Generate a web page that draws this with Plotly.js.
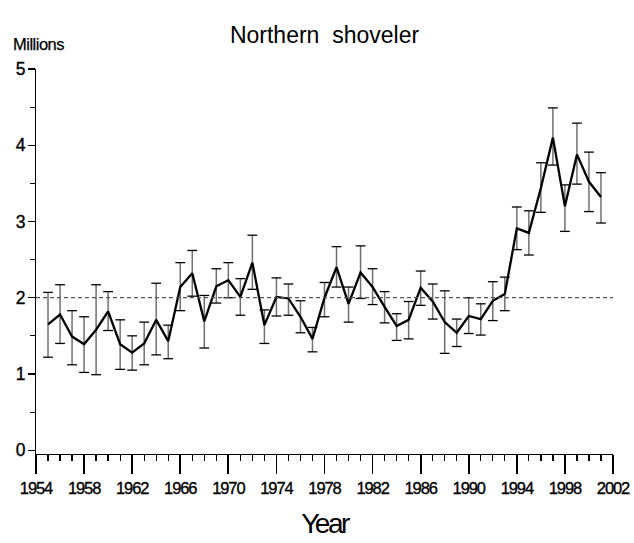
<!DOCTYPE html>
<html>
<head>
<meta charset="utf-8">
<script src="https://cdn.plot.ly/plotly-3.0.1.min.js"></script>
<style>
html,body{margin:0;padding:0;background:#fff;}
#chart{width:634px;height:543px;}
#chart .xtick text, #chart .ytick text{letter-spacing:-1.1px; stroke:#000; stroke-width:0.35px;}
#chart .xtitle{letter-spacing:-2.5px;}
#chart .annotation-text{letter-spacing:-0.5px; stroke:#000; stroke-width:0.25px;}
</style>
</head>
<body>
<div id="chart"></div>
<script>
const years = [1955,1956,1957,1958,1959,1960,1961,1962,1963,1964,1965,1966,1967,1968,1969,1970,
  1971,1972,1973,1974,1975,1976,1977,1978,1979,1980,1981,1982,1983,1984,1985,1986,1987,1988,
  1989,1990,1991,1992,1993,1994,1995,1996,1997,1998,1999,2000,2001];
const estimate = [1.65,1.78,1.49,1.39,1.58,1.82,1.39,1.28,1.40,1.71,1.43,2.14,2.32,1.69,2.15,2.23,
  2.01,2.46,1.64,2.01,1.99,1.75,1.46,2.00,2.40,1.92,2.33,2.14,1.88,1.63,1.71,2.13,1.95,1.68,
  1.54,1.76,1.72,1.96,2.05,2.91,2.85,3.44,4.10,3.20,3.88,3.52,3.32];
const upper = [2.07,2.17,1.83,1.75,2.17,2.08,1.71,1.50,1.68,2.19,1.64,2.46,2.62,2.03,2.38,2.46,
  2.25,2.82,1.84,2.26,2.18,1.96,1.61,2.20,2.67,2.14,2.68,2.38,2.08,1.79,1.95,2.35,2.18,2.09,
  1.72,2.00,1.92,2.21,2.27,3.19,3.14,3.77,4.49,3.48,4.29,3.91,3.64];
const lower = [1.22,1.40,1.12,1.02,0.99,1.57,1.06,1.05,1.12,1.25,1.20,1.83,2.02,1.34,1.93,2.00,
  1.77,2.11,1.40,1.76,1.77,1.54,1.29,1.75,2.14,1.68,1.99,1.91,1.67,1.44,1.46,1.90,1.72,1.27,
  1.36,1.53,1.51,1.70,1.83,2.63,2.56,3.12,3.74,2.87,3.49,3.13,2.98];
const referenceLevel = 2;
const xTickVals = [1954,1958,1962,1966,1970,1974,1978,1982,1986,1990,1994,1998,2002];
const yTickVals = [0,1,2,3,4,5];

const FONT = '"Liberation Sans", Arial, Helvetica, sans-serif';

const plus = upper.map((u, i) => u - estimate[i]);
const minus = lower.map((l, i) => estimate[i] - l);

const capMarker = {symbol: 'line-ew', size: 7, color: '#000', line: {color: '#000', width: 1.3}};

const traces = [
  { // gray error-bar stems
    type: 'scatter', mode: 'none',
    x: years, y: estimate,
    error_y: {type: 'data', symmetric: false, array: plus, arrayminus: minus,
              color: '#707070', thickness: 1.5, width: 0},
    showlegend: false, hoverinfo: 'skip'
  },
  { // upper caps
    type: 'scatter', mode: 'markers', x: years, y: upper,
    marker: capMarker, showlegend: false, hoverinfo: 'skip'
  },
  { // lower caps
    type: 'scatter', mode: 'markers', x: years, y: lower,
    marker: capMarker, showlegend: false, hoverinfo: 'skip'
  },
  { // estimate line
    type: 'scatter', mode: 'lines',
    x: years, y: estimate,
    line: {color: '#000', width: 2.3},
    showlegend: false, hoverinfo: 'x+y'
  }
];

const layout = {
  width: 634, height: 543,
  margin: {l: 36, r: 21, t: 69, b: 89},
  paper_bgcolor: '#fff', plot_bgcolor: '#fff',
  font: {family: FONT, color: '#000', size: 16},
  title: {text: 'Northern  shoveler', font: {family: FONT, size: 23, color: '#000'},
          x: 0.5, xref: 'paper', y: 21, yref: 'container', yanchor: 'middle'},
  showlegend: false,
  xaxis: {
    range: [1954, 2002], tickmode: 'array', tickvals: xTickVals,
    ticks: 'outside', ticklen: 19, tickwidth: 1.8, tickcolor: '#000',
    minor: {dtick: 1, tick0: 1954, ticks: 'outside', ticklen: 6, tickwidth: 1.3, tickcolor: '#000'},
    showline: true, linecolor: '#000', linewidth: 1, showgrid: false, zeroline: false,
    tickfont: {family: FONT, size: 16.5, color: '#000'},
    title: {text: 'Year', font: {family: FONT, size: 28, color: '#000'}, standoff: 17}
  },
  yaxis: {
    range: [-0.05, 5], tickmode: 'array', tickvals: yTickVals,
    ticks: 'outside', ticklen: 7, tickwidth: 1.3, tickcolor: '#000',
    minor: {dtick: 0.5, tick0: 0, ticks: 'outside', ticklen: 5, tickwidth: 1.1, tickcolor: '#000'},
    showline: true, linecolor: '#000', linewidth: 1, showgrid: false, zeroline: false,
    tickfont: {family: FONT, size: 17.5, color: '#000'}
  },
  shapes: [{type: 'line', xref: 'x', yref: 'y', x0: 1954, x1: 2002, y0: referenceLevel, y1: referenceLevel,
            line: {color: '#555', width: 1.2, dash: '4px,3px'}}],
  annotations: [{text: 'Millions', xref: 'paper', yref: 'paper', x: -0.047, y: 1.065,
                 xanchor: 'left', yanchor: 'middle', showarrow: false,
                 font: {family: FONT, size: 16.5, color: '#000'}}]
};

Plotly.newPlot('chart', traces, layout, {staticPlot: true, displayModeBar: false});
</script>
</body>
</html>
